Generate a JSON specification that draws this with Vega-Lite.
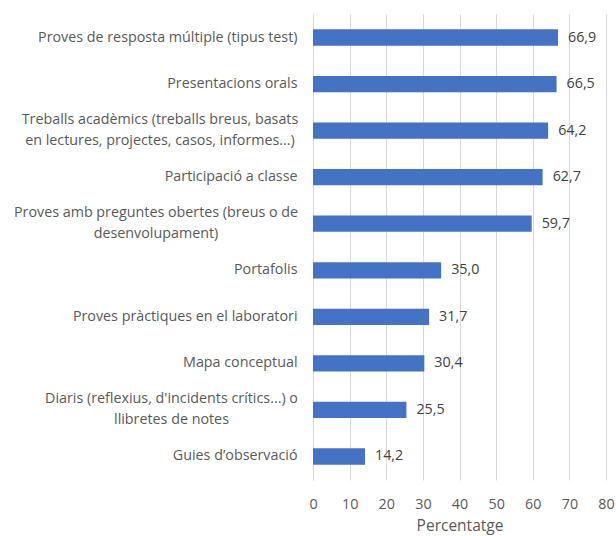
{
  "$schema": "https://vega.github.io/schema/vega-lite/v6.json",
  "autosize": "none",
  "width": 293,
  "height": 466,
  "padding": {"left": 313, "top": 14, "right": 10, "bottom": 56},
  "config": {
    "locale": {"number": {"decimal": ",", "thousands": ".", "grouping": [3], "currency": ["", " €"]}},
    "font": "Open Sans",
    "view": {"stroke": null}
  },
  "data": {
    "values": [
      {"cat": "Proves de resposta múltiple (tipus test)", "v": 66.9},
      {"cat": "Presentacions orals", "v": 66.5},
      {"cat": "Treballs acadèmics (treballs breus, basats|en lectures, projectes, casos, informes...)", "v": 64.2},
      {"cat": "Participació a classe", "v": 62.7},
      {"cat": "Proves amb preguntes obertes (breus o de|desenvolupament)", "v": 59.7},
      {"cat": "Portafolis", "v": 35.0},
      {"cat": "Proves pràctiques en el laboratori", "v": 31.7},
      {"cat": "Mapa conceptual", "v": 30.4},
      {"cat": "Diaris (reflexius, d'incidents crítics...) o|llibretes de notes", "v": 25.5},
      {"cat": "Guies d’observació", "v": 14.2}
    ]
  },
  "encoding": {
    "y": {
      "field": "cat", "type": "nominal", "sort": null,
      "scale": {"paddingInner": 0.65, "paddingOuter": 0.33},
      "axis": {
        "title": null, "ticks": false, "domain": true, "domainColor": "#d9d9d9",
        "labelExpr": "split(datum.label, '|')",
        "labelFontSize": 14.3, "labelColor": "#595959",
        "labelLimit": 400, "labelLineHeight": 21,
        "labelAlign": {"condition": {"test": "indexof(datum.value, '|') >= 0", "value": "center"}, "value": "right"},
        "labelPadding": {"condition": [
          {"test": "indexof(datum.value, 'Treballs') == 0", "value": 153.5},
          {"test": "indexof(datum.value, 'Proves amb') == 0", "value": 157.5},
          {"test": "indexof(datum.value, 'Diaris') == 0", "value": 142}
        ], "value": 16},
        "labelOffset": {"condition": {"test": "indexof(datum.value, '|') >= 0", "value": -10.5}, "value": 0}
      }
    },
    "x": {
      "field": "v", "type": "quantitative",
      "scale": {"domain": [0, 80]},
      "axis": {
        "title": "Percentatge", "values": [0, 10, 20, 30, 40, 50, 60, 70, 80],
        "grid": true, "gridColor": "#d9d9d9", "domain": false, "ticks": false,
        "labelFontSize": 14.3, "labelColor": "#595959", "labelPadding": 17,
        "titleFontSize": 15.5, "titleFontWeight": "normal", "titleColor": "#595959", "titlePadding": 7,
        "labelFlush": false
      }
    }
  },
  "layer": [
    {"mark": {"type": "bar", "color": "#4472C4"}},
    {
      "mark": {"type": "text", "align": "left", "dx": 10, "fontSize": 14.3, "color": "#404040"},
      "encoding": {"text": {"field": "v", "type": "quantitative", "format": ".1f"}}
    }
  ]
}
